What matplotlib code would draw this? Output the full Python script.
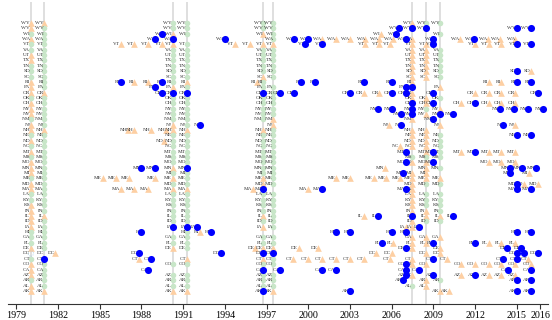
import matplotlib
matplotlib.use("Agg")
import matplotlib.pyplot as plt

plt.rcParams['font.family'] = ['Liberation Serif', 'DejaVu Serif']

# states from top row to bottom row
states = ("WY WV WI WA VT VA UT TX TN SD SC RI PA OR OK OH NY NV NM NJ NH NE ND NC "
          "MT MS MO MN MI ME MD MA LA KY KS IN IL ID IA HI GA FL DE DC CT CO CA AZ AR AL AK").split()

# national dates: one code per state, same order as `states`
# T = peak, G = no turn, B = trough, O = open circle, L = label only, - = nothing
band_years = [1980.04, 1981.0, 1990.25, 1991.25, 1996.77, 1997.5, 2007.5, 2008.5, 2009.5]
band_codes = [
    "TTGTGGTTGG GTTTGTTTGT TGTGTGTTTG TTGGTTTTTG GGTOGTTTGT T",
    "TGGGGGGGGG GGGTGGGGGG TGGGGGGGGG GGGGGGTGGG GGGLBGGGGG T",
    "GGTBTGGGGG GGTBGGGGGT TGGGGGGTGT GTGGGGGGB- GGT--G-GGG T",
    "GGG-GGGGGG GTGBGGGGGG TGGGGGGBGG GTGGGGGGBG GGG-TG-GGG T",
    "GGT-TGGGGG TGGBGGGGG- TGGGGGGGGT TBGGGGTGT- GGTBTGBGGG B",
    "GGGGTGGGGG G-GGGGGGTT GGGGGGGGGG G-GGGGGGG- GGTBGG-GGG T",
    "TB-TTTTTTT TTBTTBBBT- TTTT-GT-TT TTTTTTBTT- TTT-TT-T-G -",
    "GB--TTTTTT T---TTGT-- TTTTTGTTTT G-GGGTTG-- TT-T-T--TT -",
    "G-G--GGGGG G-T-G-TB-T -GGGGG-G-T G-GGGGTG-- T-TT----G- T",
]

peak_points = [
    ("DC", 1981.8),
    ("VT", 1986.5), ("VT", 1987.5), ("VT", 1988.5), ("VT", 1989.5),
    ("RI", 1987.5), ("RI", 1988.5),
    ("NH", 1987.0), ("NH", 1987.5), ("NH", 1988.7), ("NH", 1989.8),
    ("ME", 1985.2), ("ME", 1986.2), ("ME", 1987.1), ("ME", 1989.0),
    ("MA", 1986.5), ("MA", 1987.5), ("MA", 1988.5),
    ("CT", 1987.8), ("ND", 1989.6), ("HI", 1992.2),
    ("VT", 1994.7), ("VT", 1995.8), ("MA", 1996.0), ("DE", 1996.2), ("RI", 1996.3),
    ("WA", 2001.0), ("WA", 2002.0), ("WA", 2003.0), ("WA", 2004.1), ("WA", 2005.1), ("WA", 2006.1),
    ("VT", 2004.1), ("VT", 2005.1), ("VT", 2005.9),
    ("WI", 2005.2), ("OR", 2004.0), ("OR", 2005.1),
    ("NJ", 2005.8), ("NC", 2006.6), ("MN", 2005.5),
    ("ME", 2002.0), ("ME", 2003.0), ("ME", 2004.7), ("ME", 2005.6), ("ME", 2006.6),
    ("MA", 2000.0), ("IL", 2004.0), ("FL", 2006.1),
    ("DE", 1999.3), ("DE", 2000.7), ("DC", 2004.9), ("DC", 2006.0),
    ("CT", 1998.9), ("CT", 2000.0), ("CT", 2001.0), ("CT", 2002.0), ("CT", 2003.0),
    ("CT", 2004.0), ("CT", 2005.9),
    ("IA", 2007.0), ("CT", 2010.0), ("AK", 2010.1),
    ("WA", 2010.9), ("WA", 2012.9), ("WA", 2013.8), ("WA", 2014.9),
    ("VT", 2012.0), ("VT", 2013.0), ("VT", 2013.9),
    ("SD", 2016.0), ("RI", 2013.0), ("RI", 2013.9),
    ("OR", 2012.0), ("OR", 2013.0), ("OR", 2013.9), ("OR", 2014.9),
    ("OH", 2011.0), ("OH", 2013.0), ("OH", 2013.9), ("OH", 2014.9),
    ("NJ", 2014.9),
    ("MT", 2011.0), ("MT", 2013.0), ("MT", 2013.9), ("MT", 2014.9),
    ("MO", 2013.0), ("MO", 2013.9), ("MO", 2014.9),
    ("MI", 2015.9), ("MD", 2015.5), ("MD", 2016.5),
    ("FL", 2013.0), ("FL", 2013.9), ("FL", 2014.9),
    ("CT", 2015.8),
    ("CO", 2011.0), ("CO", 2012.0), ("CO", 2013.0), ("CO", 2013.9), ("CO", 2014.9), ("CO", 2016.0),
    ("AZ", 2011.0), ("AZ", 2013.0), ("AZ", 2013.9), ("AZ", 2014.9),
]

trough_points = [
    ("RI", 1986.5), ("RI", 1989.5), ("HI", 1988.0),
    ("DC", 1987.8), ("CT", 1988.7), ("CA", 1988.5),
    ("MN", 1988.0), ("MN", 1989.0),
    ("WI", 1989.5), ("WA", 1989.0), ("PA", 1989.0), ("OR", 1989.5),
    ("NJ", 1992.2), ("IA", 1992.0), ("HI", 1993.0), ("DC", 1993.7), ("WA", 1994.0),
    ("OR", 1998.0), ("OR", 1999.0), ("OR", 2003.0), ("OR", 2006.0), ("OR", 2007.0),
    ("WA", 1999.0), ("WA", 2000.0), ("WA", 2007.0),
    ("VT", 1999.8), ("VT", 2001.0),
    ("WI", 2006.3), ("WV", 2006.5),
    ("RI", 1999.5), ("RI", 2000.5), ("RI", 2004.0), ("RI", 2006.0),
    ("NY", 2005.0), ("NY", 2006.0), ("NV", 2006.7), ("NJ", 2006.7),
    ("MT", 2007.0), ("MO", 2007.0), ("MI", 2006.8),
    ("MA", 2001.0), ("MA", 2007.0), ("IL", 2005.0),
    ("HI", 2002.0), ("HI", 2003.0), ("HI", 2006.0), ("HI", 2007.0),
    ("FL", 2005.3), ("DE", 2007.0),
    ("CA", 1998.0), ("CA", 2001.0), ("CA", 2002.0), ("CA", 2007.0),
    ("AK", 2003.0), ("CO", 2007.0), ("AZ", 2007.0), ("AR", 2006.8), ("PA", 2007.0),
    ("IA", 2008.0), ("CA", 2008.0),
    ("WA", 2009.0), ("VT", 2009.0), ("OR", 2009.0), ("OH", 2009.0), ("NM", 2009.0),
    ("MT", 2009.0), ("MO", 2009.0), ("FL", 2009.0), ("CT", 2009.0), ("AZ", 2009.0),
    ("NV", 2010.4), ("IL", 2010.4),
    ("WA", 2011.9), ("WV", 2015.0), ("WV", 2016.0),
    ("VT", 2015.0), ("VT", 2016.0), ("SD", 2015.0),
    ("RI", 2015.0), ("RI", 2016.0), ("OR", 2016.5), ("OH", 2012.0),
    ("NY", 2013.8), ("NY", 2014.8), ("NY", 2015.8), ("NY", 2016.9),
    ("NJ", 2014.0), ("NE", 2015.0), ("NE", 2016.0), ("MT", 2012.0),
    ("MN", 2014.5), ("MN", 2015.4), ("MN", 2016.4), ("MI", 2014.5),
    ("MD", 2015.0), ("MA", 2015.0), ("MA", 2016.0), ("HI", 2015.0), ("HI", 2016.0),
    ("FL", 2012.0), ("DE", 2014.3), ("DE", 2015.3),
    ("DC", 2015.0), ("DC", 2015.5), ("DC", 2016.5),
    ("CT", 2014.0), ("CT", 2015.0), ("CA", 2014.4), ("CA", 2016.0),
    ("AZ", 2012.0), ("AR", 2015.0), ("AR", 2016.0), ("AK", 2015.0), ("AK", 2016.0),
]

tick_years = [1979, 1982, 1985, 1988, 1991, 1994, 1997, 2000, 2003, 2006, 2009, 2012, 2015, 2016.7]
tick_labels = ["1979", "1982", "1985", "1988", "1991", "1994", "1997", "2000",
               "2003", "2006", "2009", "2012", "2015", "2016"]

row = {s: len(states) - 1 - i for i, s in enumerate(states)}

pts = {"T": [], "G": [], "B": [], "O": [], "L": []}
for yr, code in zip(band_years, band_codes):
    code = code.replace(" ", "")
    assert len(code) == len(states)
    for s, c in zip(states, code):
        if c != "-":
            pts[c].append((s, yr))
pts["T"] += peak_points
pts["B"] += trough_points

fig = plt.figure(figsize=(5.52, 3.2), dpi=100)
ax = fig.add_axes([8 / 552, 16 / 320, 540 / 552, 302 / 320])

for yr in band_years:
    ax.axvline(yr, color="#dcdcdc", lw=1.3, zorder=0)

styles = {
    "G": dict(marker="o", s=16, c="#c8e6c8", linewidths=0, zorder=2),
    "T": dict(marker="^", s=23, c="#fdcfa3", linewidths=0, zorder=2),
    "B": dict(marker="o", s=26, c="#0000ff", linewidths=0, zorder=4),
    "O": dict(marker="o", s=15, facecolors="none", edgecolors="#9ecae1",
              linewidths=0.6, linestyle=":", zorder=2),
}

for kind, items in pts.items():
    if not items:
        continue
    xs = [yr for s, yr in items]
    ys = [row[s] for s, yr in items]
    if kind in styles:
        ax.scatter(xs, ys, **styles[kind])
    for s, yr in items:
        ax.annotate(s, (yr, row[s]), xytext=(-0.4, 0), textcoords="offset points",
                    ha="right", va="center", fontsize=3.8, color="#333333", zorder=3)

ax.set_xlim(1978.40, 2017.25)
ax.set_ylim(-2.43, 53.9)
ax.set_yticks([])
ax.set_xticks(tick_years)
ax.set_xticklabels(tick_labels)
ax.tick_params(axis="x", direction="out", length=3.5, width=0.8, labelsize=7.2, pad=1.5,
               color="#333333")
for side in ["left", "top", "right"]:
    ax.spines[side].set_visible(False)
ax.spines["bottom"].set_linewidth(0.8)
ax.spines["bottom"].set_color("#333333")
ax.patch.set_alpha(0)

fig.savefig("out.png", dpi=100)
